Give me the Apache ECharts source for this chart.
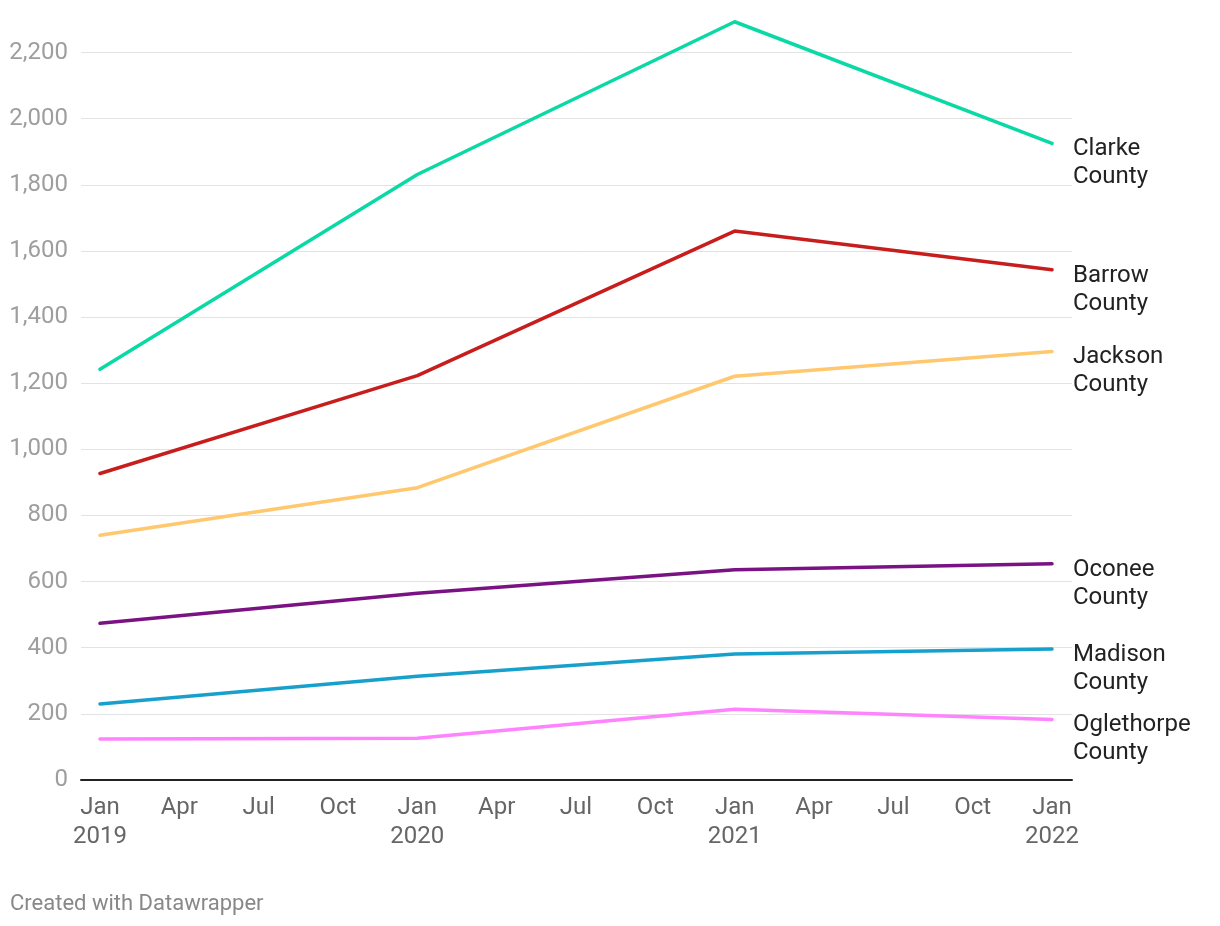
<!DOCTYPE html>
<html>
<head>
<meta charset="utf-8">
<script src="https://cdn.jsdelivr.net/npm/echarts@6/dist/echarts.min.js"></script>
<style>
html,body{margin:0;padding:0;background:#fff;}
#chart{width:1220px;height:926px;}
</style>
</head>
<body>
<div id="chart"></div>
<script>
// Months since Jan 2019
const months = [0, 12, 24, 36];
const monthNames = ['Jan', 'Apr', 'Jul', 'Oct'];
const years = ['2019', '2020', '2021', '2022'];
const yTicks = [0, 200, 400, 600, 800, 1000, 1200, 1400, 1600, 1800, 2000, 2200];

const seriesNames = ['Clarke County', 'Barrow County', 'Jackson County', 'Oconee County', 'Madison County', 'Oglethorpe County'];
const clarke = [1242, 1831, 2293, 1925];
const barrow = [927, 1223, 1660, 1543];
const jackson = [740, 884, 1221, 1296];
const oconee = [474, 565, 636, 654];
const madison = [230, 314, 381, 396];
const oglethorpe = [124, 126, 214, 183];
const seriesValues = [clarke, barrow, jackson, oconee, madison, oglethorpe];
const colors = ['#0ad9a5', '#c71e1d', '#ffc86e', '#7a1283', '#18a0cc', '#ff83ff'];

const chart = echarts.init(document.getElementById('chart'), null, {renderer: 'canvas'});
const FONT = 'Roboto';
const gridTop = 52.5, gridBottom = 146;

const seriesList = seriesNames.map((name, i) => ({
  name: name,
  type: 'line',
  xAxisIndex: 1,
  yAxisIndex: 1,
  data: months.map((m, j) => [m, seriesValues[i][j]]),
  symbol: 'none',
  clip: false,
  lineStyle: {color: colors[i], width: 3.5, cap: 'round', join: 'round'},
  itemStyle: {color: colors[i]},
  endLabel: {
    show: true,
    formatter: p => p.seriesName.replace(' ', '\n'),
    color: '#222',
    fontFamily: FONT,
    fontSize: 24,
    lineHeight: 28,
    align: 'left',
    verticalAlign: 'middle',
    distance: 0,
    offset: [21, 20]
  },
  emphasis: {disabled: true}
}));

chart.setOption({
  animation: false,
  grid: [
    {left: 81, right: 148, top: gridTop, bottom: gridBottom},
    {left: 100, right: 168, top: gridTop, bottom: gridBottom}
  ],
  xAxis: [
    {
      gridIndex: 0, type: 'value', min: 0, max: 1,
      axisLine: {show: true, lineStyle: {color: '#222', width: 2}},
      axisTick: {show: false}, axisLabel: {show: false}, splitLine: {show: false}
    },
    {
      gridIndex: 1, type: 'value', min: 0, max: 36, interval: 3,
      axisLine: {show: false}, axisTick: {show: false}, splitLine: {show: false},
      axisLabel: {
        margin: 13,
        color: '#666',
        fontFamily: FONT,
        fontSize: 24,
        lineHeight: 29,
        formatter: v => {
          const idx = Math.round(v / 3) % 4;
          const name = monthNames[idx];
          if (idx === 0) return name + '\n' + years[Math.round(v / 12)];
          return name;
        }
      }
    }
  ],
  yAxis: [
    {
      gridIndex: 0, type: 'value', min: yTicks[0], max: yTicks[yTicks.length - 1], interval: 200,
      axisLine: {show: false}, axisTick: {show: false},
      splitLine: {show: true, lineStyle: {color: '#e3e3e3', width: 1}},
      axisLabel: {
        margin: 13,
        color: '#9e9e9e',
        fontFamily: FONT,
        fontSize: 24,
        formatter: v => v.toLocaleString('en-US')
      }
    },
    {
      gridIndex: 1, type: 'value', min: yTicks[0], max: yTicks[yTicks.length - 1], interval: 200,
      show: false
    }
  ],
  graphic: [{
    type: 'text',
    left: 10,
    top: 893,
    style: {text: 'Created with Datawrapper', fill: '#888', font: '22px Roboto'}
  }],
  series: seriesList
});
</script>
</body>
</html>
